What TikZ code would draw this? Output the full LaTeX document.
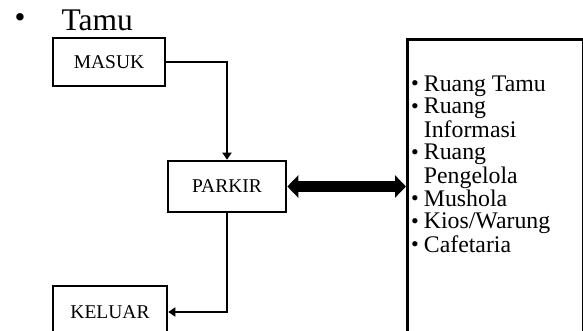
\documentclass[tikz,border=0pt]{standalone}
\usepackage{fontspec}
\setmainfont{Liberation Serif}
\usetikzlibrary{arrows.meta}
\newcommand{\itemdot}{\raisebox{0.5pt}{\fontsize{22}{22}\selectfont\textbullet}}
\begin{document}
\begin{tikzpicture}[x=1pt,y=-1pt,
  box/.style={draw,line width=2.6pt,inner sep=0pt,font=\fontsize{19.5}{22}\selectfont},
  link/.style={line width=2.8pt,-{Triangle[length=7pt,width=9pt]}},
  wide/.style={line width=10pt,{Triangle[length=11pt,width=22pt]}-{Triangle[length=11pt,width=22pt]}}]
\useasboundingbox (0,0) rectangle (583,331);
% heading
\node[anchor=west,font=\fontsize{31.5}{34}\selectfont] (tamu) at (58,20) {Tamu};
\node[font=\fontsize{31}{34}\selectfont] (dot) at (20,21) {\textbullet};
% boxes
\node[box,minimum width=112,minimum height=48] (masuk) at (109,62) {MASUK};
\node[box,minimum width=118,minimum height=51] (parkir) at (227,186.5) {PARKIR};
\node[box,minimum width=114,minimum height=52] (keluar) at (110,312) {KELUAR};
\node[draw,line width=2.6pt,minimum width=176,minimum height=310,anchor=north west] (fasilitas) at (406,38) {};
\node[anchor=north west,inner sep=0pt,font=\fontsize{23.8}{22.6}\selectfont] (daftar) at (411,75)
  {\renewcommand\arraystretch{1.0}\begin{tabular}{@{}l@{\hspace{5pt}}l@{}}
   \itemdot & Ruang Tamu\\
   \itemdot & Ruang\\
   & Informasi\\
   \itemdot & Ruang\\
   & Pengelola\\
   \itemdot & Mushola\\
   \itemdot & Kios/Warung\\
   \itemdot & Cafetaria
  \end{tabular}};
% connectors
\draw[link] (masuk.east) -| (parkir.north);
\draw[link] (parkir.south) |- (keluar.east);
\draw[wide] (parkir.east) -- (parkir.east -| fasilitas.west);
\end{tikzpicture}
\end{document}
